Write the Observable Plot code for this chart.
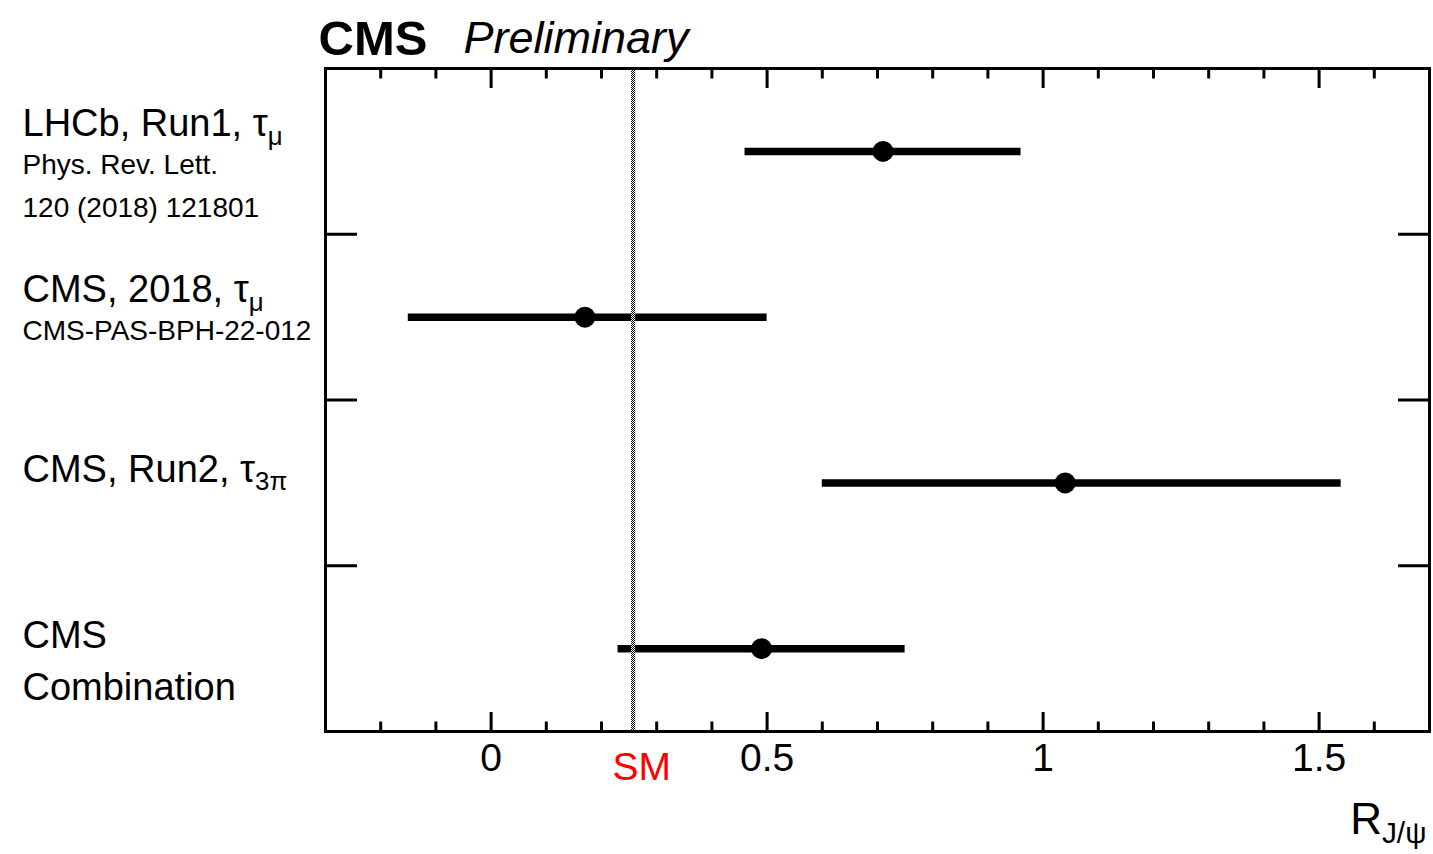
<!DOCTYPE html>
<html>
<head>
<meta charset="utf-8">
<script src="https://cdn.jsdelivr.net/npm/d3@7"></script>
<script src="https://cdn.jsdelivr.net/npm/@observablehq/plot@0.6"></script>
<style>
  html, body { margin: 0; padding: 0; background: #fff; }
  svg { display: block; }
</style>
</head>
<body>
<div id="chart"></div>
<script>
// ---- data ----
const measurements = ["LHCb, Run1, τ_{μ}", "CMS, 2018, τ_{μ}", "CMS, Run2, τ_{3π}", "CMS\nCombination"];
const references = ["Phys. Rev. Lett.\n120 (2018) 121801", "CMS-PAS-BPH-22-012", "", ""];
const central = [0.71, 0.17, 1.04, 0.49];
const lower = [0.46, -0.15, 0.60, 0.23];
const upper = [0.96, 0.50, 1.54, 0.75];
const smValue = 0.2582;
const smUnc = 0.0038;
const xMajorTicks = [0, 0.5, 1, 1.5];
const xTickLabels = ["0", "0.5", "1", "1.5"];
const xMinorTicks = [-0.2, -0.1, 0.1, 0.2, 0.3, 0.4, 0.6, 0.7, 0.8, 0.9, 1.1, 1.2, 1.3, 1.4, 1.6];
const xTitle = "R_{J/ψ}";
const smLabel = "SM";
const titleMain = "CMS";
const titleSub = "Preliminary";

// ---- table built from the arrays ----
const table = measurements.map((label, i) => ({
  row: i, label, ref: references[i], value: central[i], lo: lower[i], hi: upper[i]
}));
const withRef = table.filter(d => d.ref);
const noRef = table.filter(d => !d.ref);
const separators = d3.range(1, measurements.length).map(i => i - 0.5);
const smBand = [{x1: smValue - smUnc, x2: smValue + smUnc}];

const font = "'Liberation Sans', Arial, Helvetica, sans-serif";
const none = () => "";

const svg = Plot.plot({
  width: 1433,
  height: 854,
  marginLeft: 325,
  marginRight: 4,
  marginTop: 68,
  marginBottom: 123,
  style: {fontFamily: font, background: "white", color: "black", overflow: "visible"},
  x: {domain: [-0.3, 1.7], axis: null, label: null},
  y: {domain: [-0.5, measurements.length - 0.5], reverse: true, axis: null, label: null},
  marks: [
    // error bars
    Plot.ruleY(table, {y: "row", x1: "lo", x2: "hi", stroke: "black", strokeWidth: 7.5}),
    // SM band (hatched)
    Plot.rect(smBand, {x1: "x1", x2: "x2", fill: "url(#smHatch)"}),
    // central values
    Plot.dot(table, {x: "value", y: "row", r: 10.5, fill: "black", stroke: "none"}),
    // frame
    Plot.frame({stroke: "black", strokeWidth: 3}),
    // x ticks (inward), bottom and top
    Plot.axisX(xMajorTicks, {anchor: "bottom", tickSize: -19, strokeWidth: 3, tickFormat: none, label: null}),
    Plot.axisX(xMinorTicks, {anchor: "bottom", tickSize: -9.5, strokeWidth: 3, tickFormat: none, label: null}),
    Plot.axisX(xMajorTicks, {anchor: "top", tickSize: -19, strokeWidth: 3, tickFormat: none, label: null}),
    Plot.axisX(xMinorTicks, {anchor: "top", tickSize: -9.5, strokeWidth: 3, tickFormat: none, label: null}),
    // x tick labels
    Plot.axisX(xMajorTicks, {anchor: "bottom", tickSize: 0, tickPadding: 12, fontSize: 39,
      tickFormat: d => xTickLabels[xMajorTicks.indexOf(d)], label: null}),
    // row separators (inward ticks on both sides)
    Plot.axisY(separators, {anchor: "left", tickSize: -32, strokeWidth: 3, tickFormat: none, label: null}),
    Plot.axisY(separators, {anchor: "right", tickSize: -32, strokeWidth: 3, tickFormat: none, label: null}),
    // SM label
    Plot.text([smValue], {x: d => d, frameAnchor: "bottom", text: () => smLabel, fill: "#ff0000",
      fontSize: 39, lineAnchor: "top", dy: 21, dx: 8}),
    // x title
    Plot.text([xTitle], {frameAnchor: "bottom-right", text: d => d, textAnchor: "end", lineAnchor: "bottom",
      fontSize: 44, dy: 102, dx: -3}),
    // row labels
    Plot.text(withRef, {y: "row", text: "label", frameAnchor: "left", textAnchor: "start", dx: -303,
      fontSize: 38, lineAnchor: "bottom", dy: -15}),
    Plot.text(noRef, {y: "row", text: "label", frameAnchor: "left", textAnchor: "start", dx: -303,
      fontSize: 38, lineHeight: 1.37, lineAnchor: "top", dy: -38}),
    Plot.text(withRef, {y: "row", text: "ref", frameAnchor: "left", textAnchor: "start", dx: -303,
      fontSize: 28, lineHeight: 1.536, lineAnchor: "top", dy: -7.5}),
    // title
    Plot.text([titleMain], {frameAnchor: "top-left", text: d => d, textAnchor: "start", lineAnchor: "bottom",
      fontSize: 49, fontWeight: "bold", dx: -7, dy: -14}),
    Plot.text([titleSub], {frameAnchor: "top-left", text: d => d, textAnchor: "start", lineAnchor: "bottom",
      fontSize: 45, fontStyle: "italic", dx: 138, dy: -16})
  ]
});

// hatch pattern for the SM band
const ns = "http://www.w3.org/2000/svg";
const defs = document.createElementNS(ns, "defs");
defs.innerHTML = '<pattern id="smHatch" width="2" height="2" patternUnits="userSpaceOnUse">' +
  '<rect width="2" height="2" fill="white"/>' +
  '<rect width="1" height="1" fill="black"/>' +
  '<rect x="1" y="1" width="1" height="1" fill="black"/></pattern>';
svg.insertBefore(defs, svg.firstChild);

// turn "a_{b}" into real subscripts
svg.querySelectorAll("text").forEach(t => {
  if (t.querySelector("tspan")) return;
  const m = t.textContent.match(/^(.*)_\{(.+)\}$/);
  if (!m) return;
  t.textContent = "";
  const a = document.createElementNS(ns, "tspan");
  a.textContent = m[1];
  const b = document.createElementNS(ns, "tspan");
  b.textContent = m[2];
  b.setAttribute("font-size", "68%");
  b.setAttribute("dy", "0.33em");
  t.appendChild(a);
  t.appendChild(b);
});

document.getElementById("chart").appendChild(svg);
</script>
</body>
</html>
